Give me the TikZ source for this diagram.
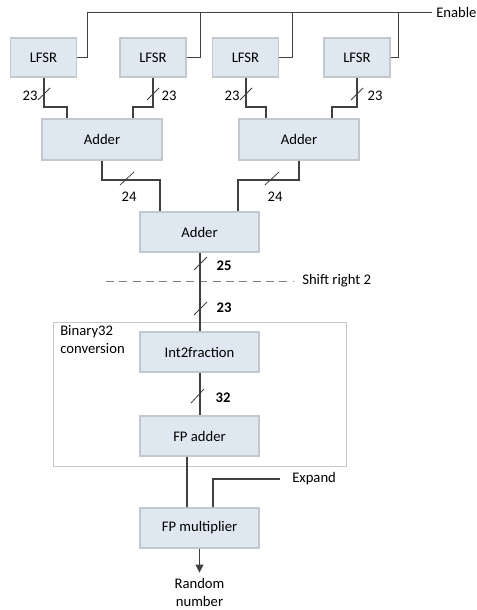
\documentclass[tikz,border=0pt]{standalone}
\usepackage{fontspec}
\setmainfont{Carlito}
\usetikzlibrary{calc,arrows.meta}
\definecolor{boxfill}{HTML}{DFE8F1}
\definecolor{boxdraw}{HTML}{C2C8CE}
\definecolor{wire}{HTML}{404040}
\tikzset{
  blk/.style={draw=boxdraw, fill=boxfill, line width=0.8pt, minimum width=119*0.75pt, minimum height=40*0.75pt, inner sep=0pt, font=\fontsize{11pt}{13pt}\selectfont},
  lblk/.style={blk, minimum width=66*0.75pt, minimum height=39*0.75pt},
  bus/.style={draw=wire, line width=1.5pt},
  ctl/.style={draw=wire, line width=0.7pt},
  tick/.style={draw=wire, line width=0.6pt},
  lab/.style={inner sep=0pt, font=\fontsize{11pt}{13.5pt}\selectfont},
  blab/.style={lab, font=\fontsize{11pt}{13pt}\selectfont\bfseries},
}
\begin{document}
\begin{tikzpicture}[x=0.75pt,y=-0.75pt]
\useasboundingbox (0,0) rectangle (476,610);
% container
\node[draw=black!22, line width=0.6pt, minimum width=293*0.75pt, minimum height=144*0.75pt, inner sep=0pt] (bc) at (199.5,394) {};
\node[lab, anchor=north west, align=left] (bct) at (60,325) {Binary32\\conversion};
% LFSR
\node[lblk] (l1) at (43.5,57.5) {LFSR};
\node[lblk] (l2) at (153,57.5) {LFSR};
\node[lblk] (l3) at (245.5,57.5) {LFSR};
\node[lblk] (l4) at (357,57.5) {LFSR};
% adders
\node[blk, minimum width=120*0.75pt, minimum height=41*0.75pt] (a1) at (102,139.5) {Adder};
\node[blk, minimum width=120*0.75pt, minimum height=41*0.75pt] (a2) at (299,139.5) {Adder};
\node[blk, minimum height=40*0.75pt] (a3) at (199.5,232) {Adder};
\node[blk] (i2f) at (199.5,352) {Int2fraction};
\node[blk] (fpa) at (199.5,436) {FP adder};
\node[blk] (fpm) at (199.5,528) {FP multiplier};
% enable
\coordinate (e1) at (87,12);
\coordinate (e2) at (200,12);
\coordinate (e3) at (292,12);
\coordinate (e4) at (398,12);
\node[lab, anchor=west] (en) at (436,12) {Enable};
\draw[ctl] (e1) -- ($(en.west)+(-4,0)$);
\draw[ctl] (l1.east) -| (e1);
\draw[ctl] (l2.east) -| (e2);
\draw[ctl] (l3.east) -| (e3);
\draw[ctl] (l4.east) -| (e4);
% LFSR to adders
\draw[bus] (l1.south) -- ++(0,29) -| ($(a1.north)+(-35,0)$);
\draw[bus] (l2.south) -- ++(0,29) -| ($(a1.north)+(31,0)$);
\draw[bus] (l3.south) -- ++(0,29) -| ($(a2.north)+(-33,0)$);
\draw[bus] (l4.south) -- ++(0,29) -| ($(a2.north)+(33,0)$);
\draw[tick] (38,100) -- (50,88);
\draw[tick] (147,100) -- (159,88);
\draw[tick] (240,100) -- (252,88);
\draw[tick] (351,100) -- (363,88);
\node[lab] (t1) at (30,96) {23};
\node[lab] (t2) at (169,96) {23};
\node[lab] (t3) at (232,96) {23};
\node[lab] (t4) at (375,96) {23};
% adders to adder
\draw[bus] (a1.south) -- ++(0,19.5) -| ($(a3.north)+(-39.5,0)$);
\draw[bus] (a2.south) -- ++(0,19.5) -| ($(a3.north)+(38.5,0)$);
\draw[tick] (120,185) -- (134,172);
\draw[tick] (265,185) -- (279,172);
\node[lab] (t5) at (129,197) {24};
\node[lab] (t6) at (275,197) {24};
% shift
\coordinate (d1) at (106,281);
\node[lab, anchor=west] (sr) at (302,281) {Shift right 2};
\draw[draw=gray, line width=0.7pt, dash pattern=on 6pt off 4pt] (d1) -- ($(sr.west)+(-8,0)$);
\draw[bus] (a3.south) -- (i2f.north);
\draw[tick] (194,270) -- (207,257);
\node[blab] (t7) at (224,266) {25};
\draw[tick] (194,315) -- (207,302);
\node[blab] (t8) at (224,308) {23};
% i2f to fpa
\draw[bus] (i2f.south) -- (fpa.north);
\draw[tick] (191,403) -- (204,389);
\node[blab] (t9) at (223,398) {32};
% fpa to fpm
\draw[bus] ($(fpa.south)+(-12.5,0)$) -- ($(fpm.north)+(-12.5,0)$);
\node[lab, anchor=west] (ex) at (292,479) {Expand};
\draw[bus] ($(fpm.north)+(13.5,0)$) |- ($(ex.west)+(-12,0)$);
\draw[ctl, -{Triangle[length=6pt,width=6pt]}] (fpm.south) -- ++(0,24);
\node[lab, align=center] (rn) at (199.5,592) {Random\\number};
\end{tikzpicture}
\end{document}
